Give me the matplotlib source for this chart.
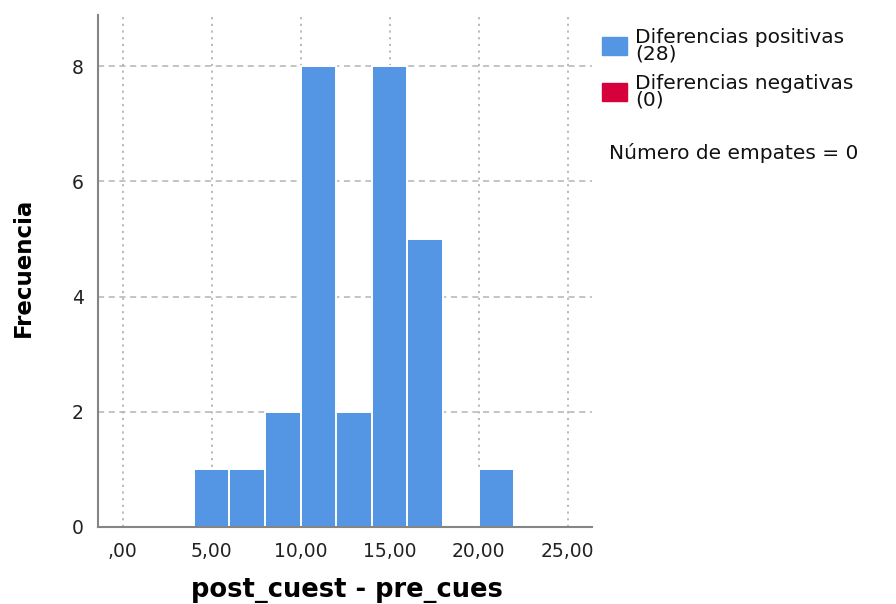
import matplotlib.pyplot as plt
from matplotlib.patches import Rectangle

# histogram data (bin edges of width 2, counts)
bin_left = [4, 6, 8, 10, 12, 14, 16, 18, 20]
counts = [1, 1, 2, 8, 2, 8, 5, 0, 1]
bin_width = 2
x_ticks = [0, 5, 10, 15, 20, 25]
x_labels = [',00', '5,00', '10,00', '15,00', '20,00', '25,00']
y_ticks = [0, 2, 4, 6, 8]

legend_labels = ['Diferencias positivas\n(28)', 'Diferencias negativas\n(0)']
legend_colors = ['#5596e4', '#d6003c']
ties_text = 'Número de empates = 0'

W, H = 896, 604
fig = plt.figure(figsize=(W / 100, H / 100), dpi=100)
ax = fig.add_axes([97.7 / W, 1 - 527 / H, (591.7 - 97.7) / W, (527 - 15) / H])

ax.bar(bin_left, counts, width=bin_width, align='edge', color=legend_colors[0],
       edgecolor='white', linewidth=1.4, zorder=2)

ax.set_xlim(-1.4, 26.35)
ax.set_ylim(0, 8.89)
ax.set_xticks(x_ticks)
ax.set_xticklabels(x_labels)
ax.set_yticks(y_ticks)
ax.set_axisbelow(True)
ax.xaxis.grid(True, linestyle=(0, (1.2, 2.5)), color='#b4b4b4', linewidth=1.3)
ax.yaxis.grid(True, linestyle=(0, (4, 3)), color='#b4b4b4', linewidth=1.1)

for s in ['top', 'right']:
    ax.spines[s].set_visible(False)
for s in ['left', 'bottom']:
    ax.spines[s].set_color('#858585')
    ax.spines[s].set_linewidth(1.5)
ax.tick_params(length=0, labelsize=13.5, colors='#222222', pad=10)
ax.tick_params(axis='x', pad=11)
for lab in ax.get_xticklabels() + ax.get_yticklabels():
    lab.set_family('DejaVu Sans')

fig.text(23 / W, 1 - 267 / H, 'Frecuencia', rotation=90, ha='center', va='center',
         fontsize=16.5, fontweight='bold',
         family=['Liberation Sans Narrow', 'DejaVu Sans Condensed', 'DejaVu Sans'])
fig.text(347 / W, 1 - 590 / H, 'post_cuest - pre_cues', ha='center', va='center',
         fontsize=18.5, fontweight='bold', family='DejaVu Sans')

# legend drawn by hand to match the SPSS layout
for i, (lab, col) in enumerate(zip(legend_labels, legend_colors)):
    y0 = 37 + i * 46
    fig.add_artist(Rectangle((602 / W, 1 - (y0 + 18) / H), 25 / W, 18 / H,
                             transform=fig.transFigure, color=col))
    fig.text(635 / W, 1 - (y0 - 9) / H, lab, ha='left', va='top', fontsize=14.5,
             linespacing=0.8, family='DejaVu Sans', color='#111111')
fig.text(609 / W, 1 - 153 / H, ties_text, ha='left', va='center', fontsize=14.5,
         family='DejaVu Sans', color='#111111')

fig.savefig('out.png', dpi=100)
